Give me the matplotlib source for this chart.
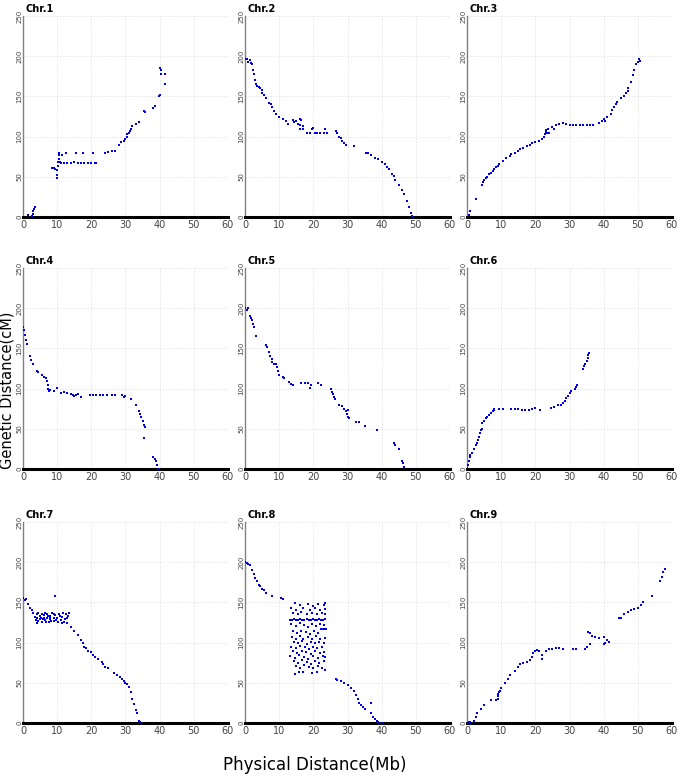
import matplotlib
matplotlib.use('Agg')
import matplotlib.pyplot as plt

chroms = ['Chr.1', 'Chr.2', 'Chr.3', 'Chr.4', 'Chr.5', 'Chr.6', 'Chr.7', 'Chr.8', 'Chr.9']

# (physical Mb, genetic cM)
chr1 = [(1.5,2),(2.5,1),(2.8,4),(3.0,7),(3.2,10),(3.5,13),
        (8.5,61),(9,61),(9.5,60),(10,58),(10,52),(10,48),(10.2,64),(10.3,68),(10.5,72),(10.5,77),
        (10.6,79),(10.8,68),(11,67),(11.5,77),(12.5,79),(12,67),(13,67),(14,67),(15,68),(15.5,79),
        (16,67),(17,67),(17.5,79),(18,67),(19,67),(20,67),(20.5,79),(21,67),(21.5,67),
        (24,80),(25,81),(26,82),(27,82),(28,89),(28.8,93),(29.5,95),(30,97),(30.3,100),(30.5,103),
        (31,105),(31.3,107),(31.5,110),(32,113),(33,116),(34,118),(35.5,132),(35.6,130),(38,135),
        (38.5,138),(39.8,150),(40,152),(40.2,185),(40.4,183),(40.5,178),(41.5,178),(41.6,165)]

chr2 = [(0,197),(0.5,196),(1,193),(1.5,195),(1.8,192),(2,190),(2.2,183),(2.5,178),(3,170),(3.2,165),
        (3.5,163),(4,162),(4.5,160),(5,158),(5,154),(5.5,152),(6,148),(7,142),(7.5,140),(8,137),
        (8.5,132),(9,128),(10,125),(11,122),(12,120),(12.5,116),(14,121),(14.3,118),(15,120),
        (15.5,116),(16,114),(16.2,110),(16.5,121),(17,113),(16,122),(17,109),(18,105),(19,105),
        (19.5,110),(20,111),(20.5,105),(21,105),(22,105),(23,105),(23.5,110),(24,105),(26.5,107),
        (27,104),(27.5,100),(28,98),(28.5,95),(29,92),(29.5,90),(32,88),(35.5,80),(36,79),(37,77),
        (38,73),(39,72),(40,68),(41,66),(41.5,62),(42,60),(43,54),(43.5,51),(44,46),(45,40),(46,33),
        (46.5,29),(47.5,20),(48,13),(48.5,5),(48.8,1)]

chr3 = [(0,0),(0.5,3),(1,8),(2.5,23),(4.5,40),(4.6,43),(5,46),(5.5,48),(6,50),(6.5,53),(7,55),
        (7.5,57),(8,60),(8.5,62),(9,64),(9.5,66),(10.5,70),(11.5,73),(12.5,76),(13,78),(14,80),
        (15,82),(15.5,84),(16.5,86),(17.5,88),(18.5,90),(19,92),(20,93),(21,95),(22,97),(22.5,100),
        (22.8,103),(23,106),(23.2,108),(23.5,104),(23.8,110),(24,105),(25,112),(25.5,110),(26,114),
        (27,116),(28,117),(29,116),(30,115),(31,115),(32,114),(33,114),(34,114),(35,114),(36,114),
        (37,114),(38.5,117),(39.5,120),(40,122),(40.5,120),(41,124),(42,128),(42.5,133),(43,137),
        (43.5,140),(44,143),(45,148),(46,150),(46.5,154),(47,157),(47.2,160),(48,168),(48.5,176),
        (49,183),(49.5,190),(50,193),(50.3,196),(50.5,194)]

chr4 = [(0,176),(0.3,173),(0.7,167),(1,160),(1.3,156),(2,140),(2.3,136),(3,131),(4,122),(4.5,121),
        (5.5,117),(6,115),(6.8,113),(7,110),(7.2,105),(7.4,100),(7.6,97),(8,98),(9,97),(10,101),
        (11,95),(12,96),(13,94),(14,93),(14.5,92),(15,91),(15.5,92),(16,93),(17,90),(19.5,92),
        (20.5,92),(21.5,92),(22.5,92),(23.5,92),(24.5,92),(26,92),(27,92),(29,92),(29.5,89),(30,91),
        (31.5,87),(33,79),(34,72),(34.3,68),(34.5,65),(35,60),(35.5,55),(35.7,52),(35.5,38),(38,15),
        (38.5,13),(39,10),(39.3,5),(39.5,0)]

chr5 = [(0,200),(0.5,198),(1,200),(1.5,190),(1.8,188),(2,185),(2.3,180),(2.5,176),(3.3,165),(6,154),
        (6.3,152),(7,145),(7.3,141),(7.8,137),(8,133),(8.4,130),(9,130),(9.5,127),(9.7,122),(10,117),
        (11,115),(11.5,113),(13,108),(13.5,106),(14,104),(16.5,107),(17.5,107),(18.5,107),(19,101),
        (19.3,104),(21.5,107),(22.3,105),(25.3,100),(25.5,96),(25.8,93),(26,90),(26.3,87),(27.5,79),
        (28.5,78),(29,75),(29.5,72),(30,74),(29.8,68),(30,65),(30.5,63),(32.5,58),(33.5,58),(35,53),
        (38.5,49),(43.5,32),(44,30),(45,25),(46,10),(46.2,7),(46.5,2)]

chr6 = [(0,1),(0.3,5),(0.5,10),(0.8,15),(1,17),(1.5,20),(2,25),(2.5,30),(3,32),(3.2,36),(3.5,40),
        (3.8,45),(4,48),(4.3,50),(4.5,57),(5,60),(5.5,63),(6,65),(6.5,67),(7,70),(7.5,72),(7.8,74),
        (8,75),(9.5,75),(10.5,75),(13,75),(14,75),(15,75),(16,74),(17,74),(18,74),(19,75),(20,76),
        (21.5,74),(24.5,76),(25.5,77),(26.5,79),(27.5,80),(28,82),(28.8,84),(29,88),(29.5,91),(30,94),
        (30.5,97),(31.5,99),(32,102),(32.3,104),(34,125),(34.3,128),(34.5,131),(35,134),(35.3,138),
        (35.5,142),(35.8,144)]

chr7 = [(0,155),(0.5,153),(1,154),(1.5,148),(2,143),(2.5,140),(3,137),(3.5,132),(4,135),(4,130),
        (4.5,127),(5,133),(5,129),(5.5,136),(5.5,126),(6,131),(6,134),(6.5,128),(7,136),(7,130),
        (7.5,126),(8,133),(8,129),(8.5,137),(9,127),(9,131),(9.5,158),(9.5,134),(10,130),(10.5,136),
        (11,128),(11.5,132),(12,126),(12.5,135),(13,130),(13.5,137),(3.8,128),(4.5,137),(5.2,131),
        (6.3,137),(6.8,126),(7.3,133),(8.3,127),(9.2,136),(10.3,126),(10.8,133),(11.8,137),(12.3,129),
        (4.2,125),(5.8,129),(7.8,131),(9.8,128),(11.3,125),(13.2,133),
        (13,124),(14,120),(15,115),(16,110),(17,103),(17.5,100),(18,95),(18.5,93),(19,90),(20,88),
        (20.5,85),(21,82),(22,79),(23,76),(23.5,73),(24,70),(25,68),(26.5,62),(27.5,60),(28.5,57),
        (29,55),(29.5,52),(30,50),(30.5,48),(31,45),(31.5,38),(32,30),(32.5,24),(33,16),(33.3,12),
        (34,3),(34.2,1)]

chr8 = [(0,200),(0.5,199),(1,198),(1.5,197),(2,190),(2.5,185),(3,180),(3.5,177),(4,172),(4.5,170),
        (5,167),(5.5,165),(6,162),(8,158),(10.5,155),(11,154),
        (14.5,149),(16,147),(18.5,148),(20,146),(21.5,148),(23,147),(23.5,149),
        (13.5,143),(15,141),(17,143),(19,140),(20.5,143),(22,141),(23.3,142),
        (14,137),(15.5,135),(16.5,138),(18,136),(19.5,137),(21,135),(22.5,137),(23.4,136),
        (13.2,128),(13.8,128),(14.4,129),(15,128),(15.6,128),(16.2,129),(16.8,128),(17.4,128),
        (18,129),(18.6,128),(19.2,128),(19.8,129),(20.4,128),(21,128),(21.6,129),(22.2,128),
        (22.8,128),(23.4,129),
        (13.5,123),(14.8,121),(16,124),(17.3,122),(18.5,120),(19.5,123),(20.8,121),(22,123),(23,122),
        (22.3,117),(22.8,117),(23.3,117),(23.6,117),
        (14,114),(15.2,112),(16.5,115),(17.8,113),(19,111),(20.3,114),(21.5,112),
        (13.7,107),(15,105),(16,108),(17,104),(18.3,107),(19.6,105),(20.8,108),(22,105),(23.3,106),
        (14.3,101),(15.5,99),(16.8,102),(18,98),(19.2,101),(20.5,99),(21.7,101),(23,100),
        (13.5,95),(14.8,93),(16.2,96),(17.5,94),(18.8,92),(20,95),(21.2,93),(22.5,95),
        (14,89),(15.3,87),(16.6,90),(17.9,88),(19.2,86),(20.6,89),(22,87),(23.2,88),
        (13.3,83),(14.6,81),(15.9,84),(17.2,82),(18.5,80),(19.9,83),(21.3,81),(22.7,83),(23.5,82),
        (14.2,77),(15.4,75),(16.7,78),(18,76),(19.3,74),(20.6,77),(21.8,75),(23,77),
        (14.8,71),(16.1,69),(17.4,72),(18.7,70),(20,68),(21.4,71),(22.6,69),(23.3,66),
        (14.5,61),(15.7,63),(17,64),(19.5,62),(21,64),
        (26.5,55),(27,53),(28,52),(29,50),(30,47),(31,44),(32,40),(32.5,35),(33,30),(33.5,25),(34,23),
        (34.5,20),(35,17),(37,25),(37,12),(37.5,8),(38,5),(38.5,3),(39,1),(40,0.5)]

chr9 = [(0.5,1),(1,1),(2,3),(2.5,8),(3,12),(4,18),(5,22),(7,28),(8.5,28),(9,30),(9,33),(9.2,36),
        (9.5,38),(9.7,40),(10,43),(11,50),(12,55),(12.5,60),(14,65),(15,70),(15.5,73),(16.5,75),
        (17.5,76),(18.5,78),(19,82),(19.3,87),(20,89),(20.5,91),(21,90),(22,85),(22,80),(23,90),
        (24,92),(25,92),(26,93),(27,93),(28,92),(31,92),(32,92),(34.5,92),(35,95),(36,98),(35.5,113),
        (36,112),(36.5,108),(37.5,107),(38.5,106),(40,107),(40,98),(40.5,100),(41,103),(41.5,101),
        (44.5,130),(45,131),(46,136),(47,138),(48,141),(49,142),(50,143),(51,147),(51.5,151),(54,158),
        (56.5,176),(57,182),(57.5,188),(58,192)]

data = [chr1, chr2, chr3, chr4, chr5, chr6, chr7, chr8, chr9]
x_ticks = [0, 10, 20, 30, 40, 50, 60]
y_ticks = [0, 50, 100, 150, 200, 250]

W, H = 677, 783
fig = plt.figure(figsize=(W / 100, H / 100), dpi=100)
col_x = [23, 245, 467]
row_top = [16, 268, 522]
aw, ah = 205, 201

for i, (name, pts) in enumerate(zip(chroms, data)):
    r, c = divmod(i, 3)
    ax = fig.add_axes([col_x[c] / W, 1 - (row_top[r] + ah) / H, aw / W, ah / H])
    xs = [p[0] for p in pts]
    ys = [p[1] for p in pts]
    ax.scatter(xs, ys, s=4, marker='s', color='#0000e6', linewidths=0, zorder=3)
    ax.set_xlim(0, 60)
    ax.set_ylim(0, 250)
    ax.set_xticks(x_ticks)
    ax.set_yticks(y_ticks)
    ax.set_xticklabels([str(t) for t in x_ticks], fontsize=7)
    ax.set_yticklabels([str(t) for t in y_ticks], fontsize=5, rotation=90, va='center')
    ax.tick_params(length=0, colors='#444444')
    ax.tick_params(axis='x', pad=2)
    ax.tick_params(axis='y', pad=0.5)
    ax.grid(True, ls=(0, (2, 2)), lw=0.5, color='#dcdcdc')
    ax.spines['top'].set_visible(False)
    ax.spines['right'].set_visible(False)
    ax.spines['left'].set_color('#808080')
    ax.spines['left'].set_linewidth(1.0)
    ax.spines['bottom'].set_color('black')
    ax.spines['bottom'].set_linewidth(2.2)
    ax.text(0.01, 1.01, name, transform=ax.transAxes,
            fontsize=7, fontweight='bold', ha='left', va='bottom')

fig.text(0, 1 - 390 / H, 'Genetic Distance(cM)', rotation=90, fontsize=10.5,
         ha='left', va='center')
fig.text(315 / W, 1 - 765 / H, 'Physical Distance(Mb)', fontsize=12,
         ha='center', va='center')

fig.savefig('out.png', dpi=100)
